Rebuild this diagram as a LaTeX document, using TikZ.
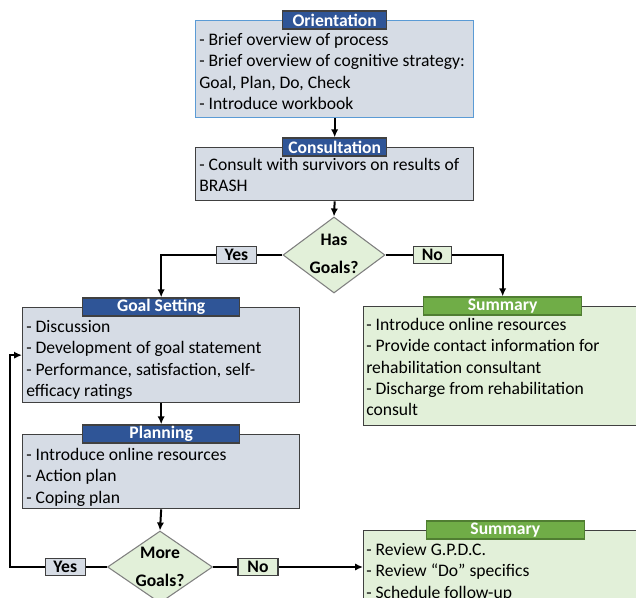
\documentclass[tikz,border=0pt]{standalone}
\usepackage{fontspec}
\setmainfont{Carlito}
\usetikzlibrary{shapes.geometric,arrows.meta}

\definecolor{bluefill}{HTML}{D6DCE5}
\definecolor{greenfill}{HTML}{E2F0D9}
\definecolor{tabblue}{HTML}{2F5597}
\definecolor{tabgreen}{HTML}{70AD47}
\definecolor{tabgreenedge}{HTML}{507E32}
\definecolor{lightedge}{HTML}{5B9BD5}
\definecolor{darkedge}{HTML}{404040}

\tikzset{
	box/.style={draw=darkedge, line width=1pt, anchor=north west, inner sep=0pt, minimum width=208.5pt},
	bluebox/.style={box, fill=bluefill},
	greenbox/.style={box, fill=greenfill},
	tab/.style={draw=darkedge, line width=1pt, text=white, inner sep=0pt, minimum height=13.5pt,
		font=\fontsize{13.2}{16}\selectfont\bfseries},
	bluetab/.style={tab, fill=tabblue},
	greentab/.style={tab, fill=tabgreen, draw=tabgreenedge},
	boxtext/.style={anchor=north west, align=left, inner sep=0pt, font=\fontsize{13.2}{16}\selectfont},
	decision/.style={diamond, draw=gray, fill=greenfill, line width=0.8pt, inner sep=0pt},
	dtext/.style={align=center, inner sep=0pt, font=\fontsize{13.2}{21}\selectfont\bfseries},
	answer/.style={draw=darkedge, line width=0.8pt, inner sep=0pt, minimum height=12.75pt,
		minimum width=30pt, font=\fontsize{13.2}{16}\selectfont\bfseries},
	link/.style={->, line width=1.5pt}
}

\begin{document}
\begin{tikzpicture}[x=0.75pt,y=-0.75pt,>={Latex[length=6pt,width=5.5pt]}]
	\useasboundingbox (0,0) rectangle (636,598);
	\clip (0,0) rectangle (636,598);

	% orientation and consultation
	\node[bluebox, draw=lightedge, minimum height=72.75pt] (orient) at (195,20) {};
	\node[boxtext] (orientTxt) at ([shift={(4,13)}]orient.north west)
		{- Brief overview of process\\- Brief overview of cognitive strategy:\\Goal, Plan, Do, Check\\- Introduce workbook};
	\node[bluetab, minimum width=78pt] (orientTab) at (orient.north) {Orientation};

	\node[bluebox, minimum height=39.75pt] (consult) at (195,147) {};
	\node[boxtext] (consultTxt) at ([shift={(4,11)}]consult.north west)
		{- Consult with survivors on results of\\BRASH};
	\node[bluetab, minimum width=78pt] (consultTab) at (consult.north) {Consultation};

	\node[decision, minimum width=76.5pt, minimum height=57pt] (has) at (334,255) {};
	\node[dtext] (hasTxt) at (334,254) {Has\\Goals?};

	% left branch
	\node[bluebox, minimum width=207.75pt, minimum height=71.25pt] (goal) at (22,307) {};
	\node[boxtext] (goalTxt) at ([shift={(4,13)}]goal.north west)
		{- Discussion\\- Development of goal statement\\- Performance, satisfaction, self-\\efficacy ratings};
	\node[bluetab, minimum width=117.75pt] (goalTab) at (goal.north) {Goal Setting};

	\node[bluebox, minimum width=207.75pt, minimum height=55.5pt] (plan) at (22,434) {};
	\node[boxtext] (planTxt) at ([shift={(4,14)}]plan.north west)
		{- Introduce online resources\\- Action plan\\- Coping plan};
	\node[bluetab, minimum width=117.75pt] (planTab) at (plan.north) {Planning};

	\node[decision, minimum width=78.75pt, minimum height=54pt] (more) at (160,567) {};
	\node[dtext] (moreTxt) at (160,567) {More\\Goals?};

	% right side
	\node[greenbox, minimum height=89.25pt] (sumA) at (363,306) {};
	\node[boxtext] (sumATxt) at ([shift={(3,12)}]sumA.north west)
		{- Introduce online resources\\- Provide contact information for\\rehabilitation consultant\\- Discharge from rehabilitation\\consult};
	\node[greentab, minimum width=118.5pt] (sumATab) at (sumA.north) {Summary};

	\node[greenbox, minimum height=57pt] (sumB) at (363,530) {};
	\node[boxtext] (sumBTxt) at ([shift={(3,13)}]sumB.north west)
		{- Review G.P.D.C.\\- Review “Do” specifics\\- Schedule follow-up};
	\node[greentab, minimum width=118.5pt] (sumBTab) at ([xshift=2pt]sumB.north) {Summary};

	% connectors
	\draw[link] (orient.south) -- (consultTab.north);
	\draw[link] (consult.south) -- (has.north);
	\draw[link] (has.west) -| node[answer, fill=bluefill, pos=0.19] (yesA) {Yes} (goalTab.north);
	\draw[link] (has.east) -| node[answer, fill=greenfill, pos=0.2, minimum width=28.5pt] (noA) {No} (sumATab.north);
	\draw[link] (goal.south) -- (planTab.north);
	\draw[link] (plan.south) -- (more.north);
	\coordinate (back) at (10,567);
	\draw[link] (more.west) -- node[answer, fill=bluefill, pos=0.43] (yesB) {Yes} (back) |- (goal.west);
	\draw[link] (more.east) -- node[answer, fill=greenfill, pos=0.3] (noB) {No} (more.east -| sumB.west);

\end{tikzpicture}
\end{document}
